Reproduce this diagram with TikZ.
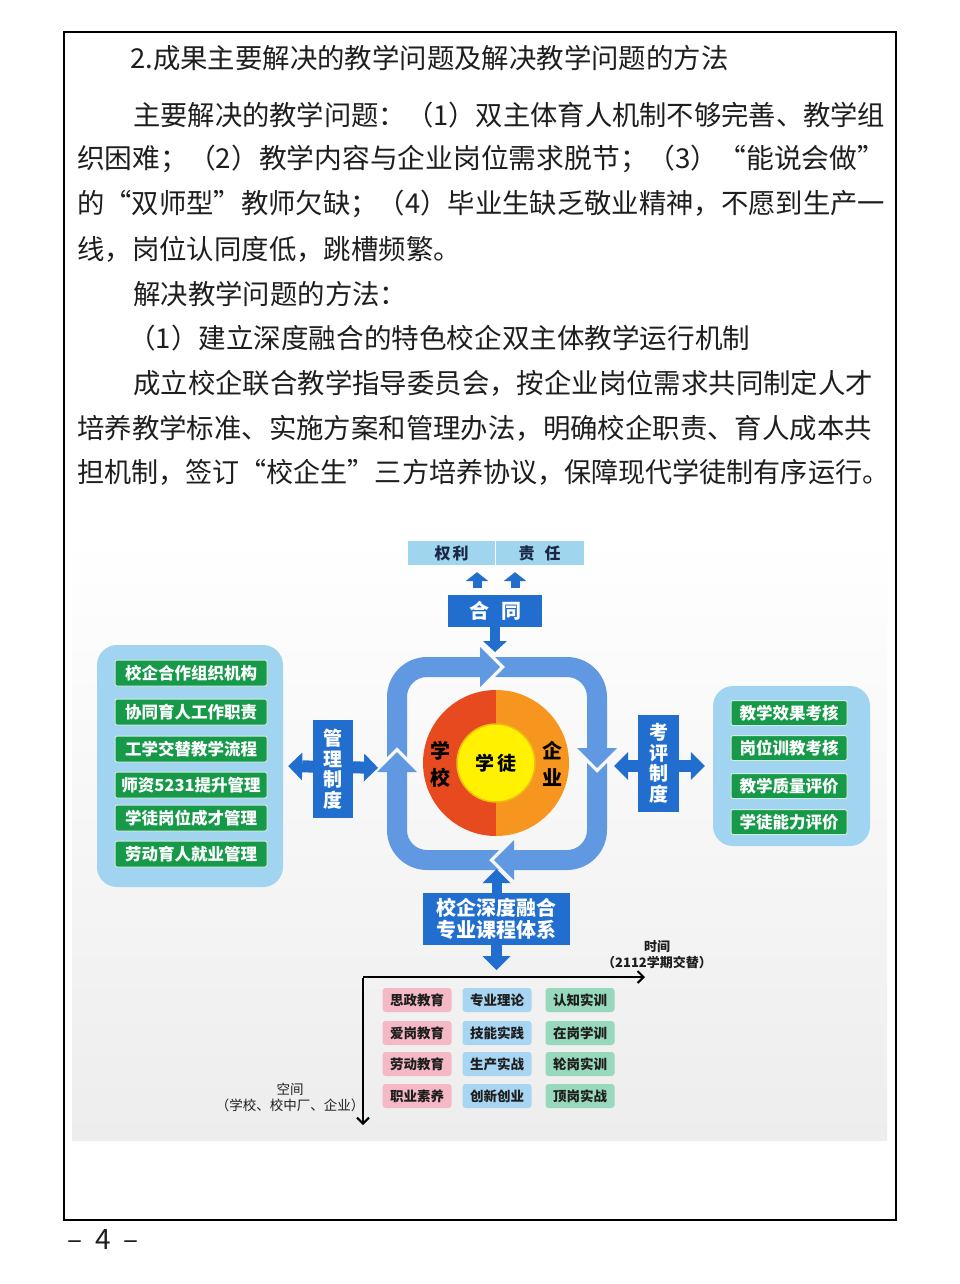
\documentclass[tikz,border=0pt]{standalone}
\usepackage{fontspec}
\usepackage{graphicx}
\setmainfont{Noto Sans CJK SC}
\usetikzlibrary{positioning,arrows.meta}
\definecolor{bodyblack}{RGB}{30,30,30}
\definecolor{deepblue}{RGB}{34,110,206}
\definecolor{loopblue}{RGB}{96,153,226}
\definecolor{tagblue}{RGB}{160,213,238}
\definecolor{panelblue}{RGB}{160,212,240}
\definecolor{itemgreen}{RGB}{22,154,74}
\definecolor{schoolred}{RGB}{232,74,32}
\definecolor{firmorange}{RGB}{247,150,30}
\definecolor{apprentice}{RGB}{255,241,0}
\definecolor{ringgold}{RGB}{242,186,20}
\definecolor{navytext}{RGB}{25,40,70}
\definecolor{bggray}{RGB}{237,237,237}
\definecolor{cellpink}{RGB}{245,184,198}
\definecolor{cellblue}{RGB}{168,214,242}
\definecolor{cellmint}{RGB}{152,216,188}
\newcommand{\fitline}[2]{\resizebox{#1}{\height}{#2}}
\tikzset{
  headS/.tip={Triangle[length=9pt,width=23pt,line width=0pt 0 0]},
  headM/.tip={Triangle[length=11pt,width=24pt,line width=0pt 0 0]},
  headL/.tip={Triangle[length=14pt,width=28pt,line width=0pt 0 0]}
}

\begin{document}
\begin{tikzpicture}[
    x=1pt,y=-1pt,
    body/.style={anchor=west,inner sep=0pt,text=bodyblack,font=\fontsize{27.4}{30}\selectfont},
    tagbox/.style={fill=tagblue,text=navytext,minimum height=24pt,inner sep=0pt,font=\bfseries\fontsize{16}{18}\selectfont},
    bluebox/.style={fill=deepblue,text=white,inner sep=0pt,align=center},
    sidepanel/.style={fill=panelblue,rounded corners=20pt,inner sep=0pt},
    greenbox/.style={fill=itemgreen,draw=white!80!itemgreen,line width=1pt,rounded corners=2pt,text=white,inner sep=0pt,minimum height=26pt,font=\bfseries\fontsize{16.5}{18}\selectfont},
    gridbox/.style={rounded corners=3pt,minimum width=69pt,minimum height=24pt,inner sep=0pt,text=bodyblack,font=\bfseries\fontsize{13.5}{15}\selectfont},
    axislabel/.style={align=center,inner sep=0pt,text=bodyblack,font=\fontsize{13.5}{16}\selectfont}
  ]
  \useasboundingbox (0,0) rectangle (960,1284);
  \fill[white] (0,0) rectangle (960,1284);
  \draw[line width=1.8pt] (64,32) rectangle (896,1220);

  % text above the figure
  \node[body] (l1) at (130,58) {2.成果主要解决的教学问题及解决教学问题的方法};
  \node[body] (l2) at (133,115) {\fitline{752pt}{主要解决的教学问题：（1）双主体育人机制不够完善、教学组}};
  \node[body] (l3) at (77,159) {\fitline{808pt}{织困难；（2）教学内容与企业岗位需求脱节；（3）“能说会做”}};
  \node[body] (l4) at (77,204) {\fitline{808pt}{的“双师型”教师欠缺；（4）毕业生缺乏敬业精神，不愿到生产一}};
  \node[body] (l5) at (77,249) {线，岗位认同度低，跳槽频繁。};
  \node[body] (l6) at (133,294) {解决教学问题的方法：};
  \node[body] (l7) at (128,338) {\fitline{622pt}{（1）建立深度融合的特色校企双主体教学运行机制}};
  \node[body] (l8) at (133,383) {成立校企联合教学指导委员会，按企业岗位需求共同制定人才};
  \node[body] (l9) at (77,428) {培养教学标准、实施方案和管理办法，明确校企职责、育人成本共};
  \node[body] (l10) at (77,472) {\fitline{812pt}{担机制，签订“校企生”三方培养协议，保障现代学徒制有序运行。}};

  % figure background
  \fill[top color=white,bottom color=bggray] (72,533) rectangle (887,1140);

  % rights, duty, contract
  \node[tagbox,minimum width=87pt] (rights) at (451.5,553) {权\hspace{2pt}利};
  \node[tagbox,minimum width=89pt] (duty) at (539.5,553) {责\hspace{10pt}任};
  \draw[white,line width=1.2pt] (rights.north east) -- (rights.south east);
  \node[bluebox,minimum width=94pt,minimum height=32pt,font=\bfseries\fontsize{20}{22}\selectfont] (contract) at (495,611) {合\hspace{12pt}同};
  \draw[deepblue,line width=9pt,-headS,shorten <=7pt,shorten >=7pt] ([xshift=-18pt]contract.north) -- ([xshift=-18pt]contract.north |- rights.south);
  \draw[deepblue,line width=9pt,-headS,shorten <=7pt,shorten >=7pt] ([xshift=20pt]contract.north) -- ([xshift=20pt]contract.north |- duty.south);

  \coordinate (looptop) at (497,657);
  \coordinate (loopbot) at (497,870);
  \coordinate (loopW) at (387,768);
  \coordinate (loopE) at (607,766);
  \draw[deepblue,line width=10pt,-headM,shorten >=5pt] (contract.south) -- (contract.south |- looptop);

  % side panels
  \node[sidepanel,minimum width=186pt,minimum height=242pt] (lpanel) at (190,766) {};
  \node[greenbox,minimum width=152pt] (org) at (191,673) {校企合作组织机构};
  \node[greenbox,minimum width=152pt] (duties) at (191,712) {协同育人工作职责};
  \node[greenbox,minimum width=152pt] (flow) at (191,749) {工学交替教学流程};
  \node[greenbox,minimum width=152pt] (staff) at (191,785) {师资5231提升管理};
  \node[greenbox,minimum width=152pt] (growth) at (191,818) {学徒岗位成才管理};
  \node[greenbox,minimum width=152pt] (labour) at (191,854) {劳动育人就业管理};

  \node[sidepanel,minimum width=157pt,minimum height=160pt] (rpanel) at (791.5,766) {};
  \node[greenbox,minimum width=116pt,minimum height=25pt] (effect) at (789,713) {教学效果考核};
  \node[greenbox,minimum width=116pt,minimum height=25pt] (post) at (789,748) {岗位训教考核};
  \node[greenbox,minimum width=116pt,minimum height=25pt] (quality) at (789,786) {教学质量评价};
  \node[greenbox,minimum width=116pt,minimum height=25pt] (ability) at (789,822) {学徒能力评价};

  % management and evaluation
  \draw[deepblue,line width=12pt,headL-headL,shorten <=5pt,shorten >=9pt] (lpanel.east) -- (loopW);
  \draw[deepblue,line width=12pt,headL-headL,shorten <=7pt,shorten >=8pt] (loopE) -- (rpanel.west);
  \node[bluebox,minimum width=40pt,minimum height=98pt,font=\bfseries\fontsize{19}{20.5}\selectfont] (mgmt) at (333,769) {管\\理\\制\\度};
  \node[bluebox,minimum width=41pt,minimum height=97pt,font=\bfseries\fontsize{19}{20.5}\selectfont] (evalsys) at (658.5,763.5) {考\\评\\制\\度};

  % circulating loop
  \fill[loopblue] (387,757) -- (387,697) arc[start angle=180,end angle=90,radius=40pt] -- (480,657) -- (480,647) -- (500,667) -- (480,687) -- (480,677) -- (427,677) arc[start angle=90,end angle=180,radius=20pt] -- (407,757) -- (397,747) -- cycle;
  \fill[loopblue] (495,657) -- (567,657) arc[start angle=90,end angle=0,radius=40pt] -- (607,748) -- (617,748) -- (597,768) -- (577,748) -- (587,748) -- (587,697) arc[start angle=0,end angle=90,radius=20pt] -- (495,677) -- (505,667) -- cycle;
  \fill[loopblue] (607,763) -- (607,830) arc[start angle=0,end angle=-90,radius=40pt] -- (514,870) -- (514,880) -- (494,860) -- (514,840) -- (514,850) -- (567,850) arc[start angle=-90,end angle=0,radius=20pt] -- (587,763) -- (597,773) -- cycle;
  \fill[loopblue] (499,870) -- (427,870) arc[start angle=-90,end angle=-180,radius=40pt] -- (387,772) -- (377,772) -- (397,752) -- (417,772) -- (407,772) -- (407,830) arc[start angle=180,end angle=270,radius=20pt] -- (427,850) -- (499,850) -- (489,860) -- cycle;

  % school, enterprise, apprentice
  \fill[schoolred] (496,690) arc[start angle=90,end angle=270,radius=73pt] -- cycle;
  \fill[firmorange] (496,690) arc[start angle=90,end angle=-90,radius=73pt] -- cycle;
  \node[circle,fill=apprentice,draw=ringgold,line width=1.5pt,minimum size=78pt,inner sep=0pt,font=\bfseries\fontsize{19}{21}\selectfont] (student) at (496,763) {学\hspace{3pt}徒};
  \node[align=center,inner sep=0pt,font=\bfseries\fontsize{20}{27}\selectfont] (school) at (440,764) {学\\校};
  \node[align=center,inner sep=0pt,font=\bfseries\fontsize{20}{27}\selectfont] (firm) at (552,764) {企\\业};

  % curriculum
  \node[bluebox,minimum width=147pt,minimum height=52pt,font=\bfseries\fontsize{20}{21.5}\selectfont] (course) at (496.5,919) {校企深度融合\\专业课程体系};
  \draw[deepblue,line width=10pt,-headL,shorten >=-1pt] (course.north) -- (course.north |- loopbot);

  \coordinate (origin) at (363,977);
  \coordinate (timeend) at (645,977);
  \coordinate (spaceend) at (363,1125);
  \draw[deepblue,line width=11pt,-headL,shorten >=7pt] (course.south) -- (course.south |- origin);
  \draw[line width=2pt,-{Straight Barb[length=6pt,width=12pt]}] (origin) -- (timeend);
  \draw[line width=2pt,-{Straight Barb[length=6pt,width=12pt]}] ([yshift=-1pt]origin) -- (spaceend);
  \node[axislabel,font=\bfseries\fontsize{13}{16}\selectfont] (timelabel) at (657,955) {时间\\（2112学期交替）};
  \node[axislabel] (spacelabel) at (290,1097) {空间\\（学校、校中厂、企业）};

  % course grid
  \node[gridbox,fill=cellpink] (c11) at (417,1000) {思政教育};
  \node[gridbox,fill=cellblue] (c12) at (497,1000) {专业理论};
  \node[gridbox,fill=cellmint] (c13) at (580,1000) {认知实训};
  \node[gridbox,fill=cellpink] (c21) at (417,1033) {爱岗教育};
  \node[gridbox,fill=cellblue] (c22) at (497,1033) {技能实践};
  \node[gridbox,fill=cellmint] (c23) at (580,1033) {在岗学训};
  \node[gridbox,fill=cellpink] (c31) at (417,1064) {劳动教育};
  \node[gridbox,fill=cellblue] (c32) at (497,1064) {生产实战};
  \node[gridbox,fill=cellmint] (c33) at (580,1064) {轮岗实训};
  \node[gridbox,fill=cellpink] (c41) at (417,1096) {职业素养};
  \node[gridbox,fill=cellblue] (c42) at (497,1096) {创新创业};
  \node[gridbox,fill=cellmint] (c43) at (580,1096) {顶岗实战};

  % page number
  \node[anchor=west,inner sep=0pt,text=bodyblack,font=\fontsize{28}{30}\selectfont] (pageno) at (67,1240) {–\hspace{13pt}4\hspace{13pt}–};
\end{tikzpicture}
\end{document}
